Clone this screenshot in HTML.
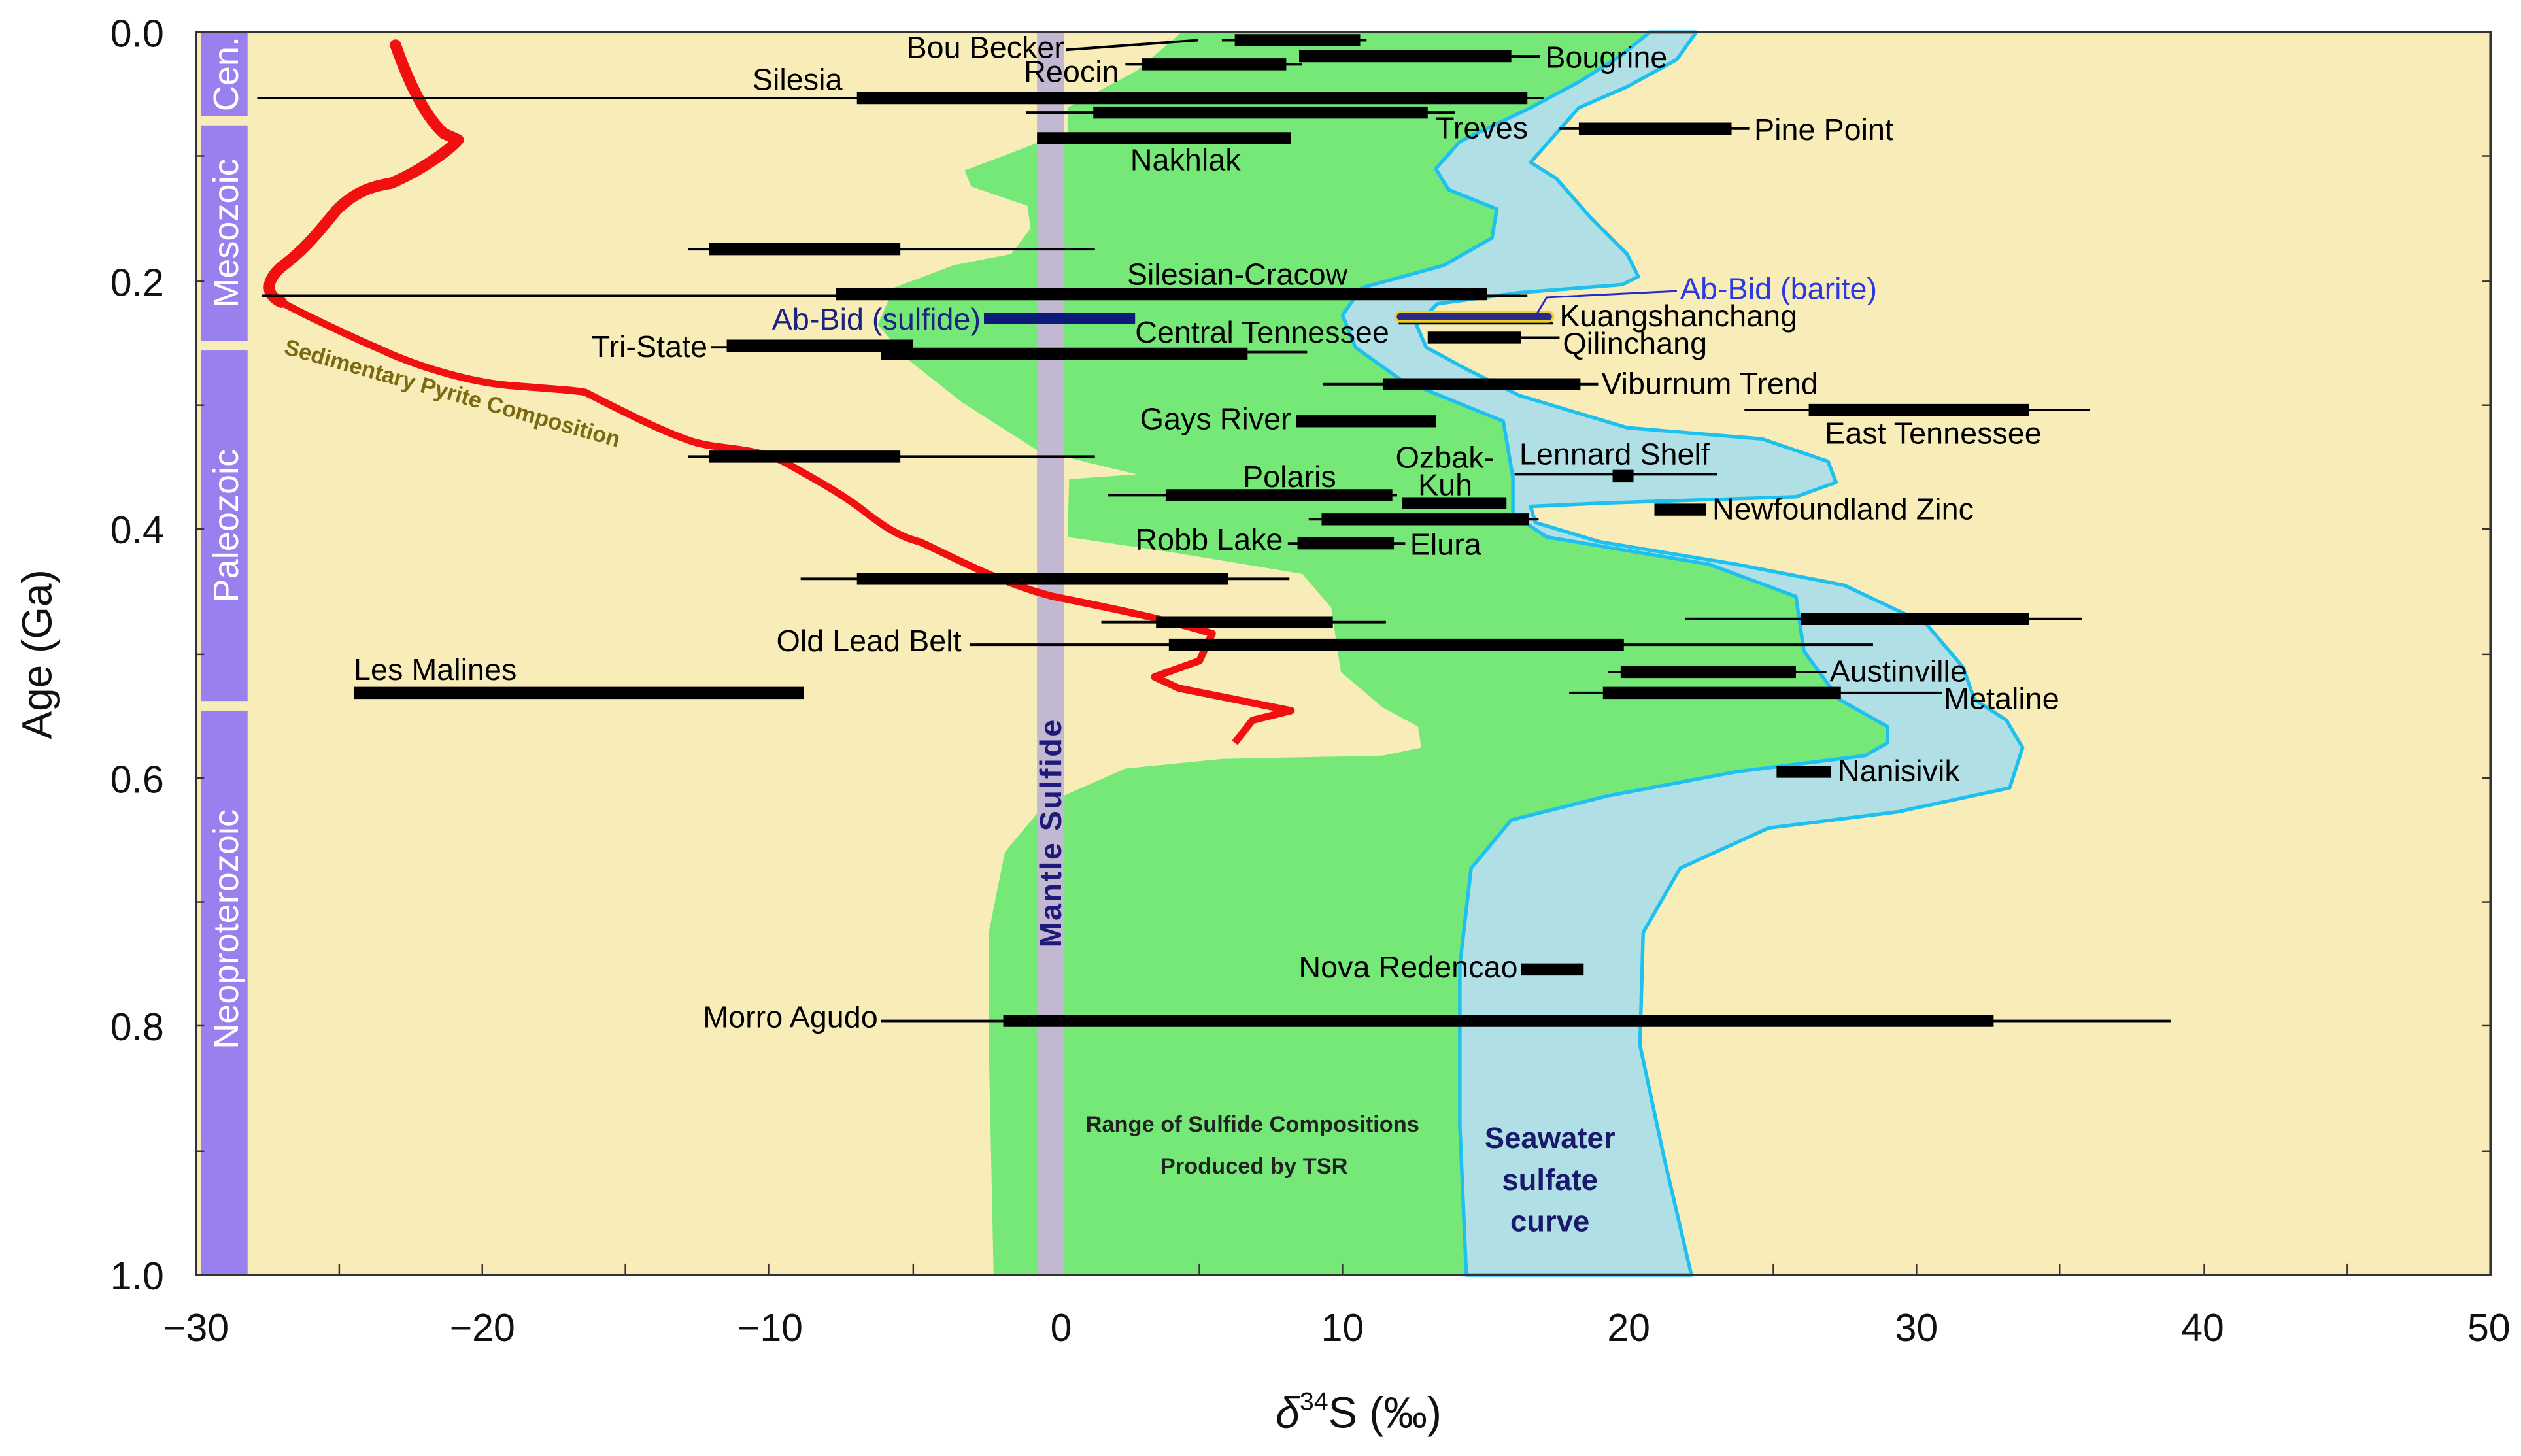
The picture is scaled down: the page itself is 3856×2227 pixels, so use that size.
<!DOCTYPE html>
<html><head><meta charset="utf-8"><style>
html,body{margin:0;padding:0;background:#fff;}
svg{display:block;}
text{font-family:"Liberation Sans",Arial,sans-serif;}
</style></head><body>
<svg width="3856" height="2227" viewBox="0 0 1568 905.6" preserveAspectRatio="none" xmlns="http://www.w3.org/2000/svg">
<rect x="0" y="0" width="1568" height="905.6" fill="#fff"/>
<rect x="122" y="20" width="1427" height="773" fill="#f8edb9"/>
<path fill="#76e878" d="M735,20 L707,44 L664,67 L664,84 L645,89 L600,106 L604,116 L639,128 L641,142 L629,158 L593,165 L556,179 L546,202 L564,223 L598,250 L645,280 L707,295 L665,298 L664,334 L732,344 L810,357 L828,378 L834,418 L860,440 L882,452 L884,465 L860,470 L760,472 L700,478 L650,500 L625,530 L615,580 L615,650 L618,793 L914,793 L910,700 L910,600 L917,540 L942,510 L1000,495 L1080,480 L1160,470 L1176,462 L1176,452 L1146,435 L1124,405 L1119,371 L1065,351 L964,334 L943,320 L943,297 L937,262 L873,236 L845,216 L837,196 L849,179 L900,165 L930,148 L933,130 L903,118 L895,105 L910,88 L954,67 L984,51 L1011,34 L1028,20 Z"/>
<path fill="#b0dfe6" stroke="#1ec0f0" stroke-width="2.2" stroke-linejoin="round" d="M1026,20 L1009,34 L982,51 L952,67 L908,88 L893,105 L901,118 L931,130 L928,148 L898,165 L847,179 L835,196 L843,216 L871,236 L935,262 L941,297 L941,320 L962,334 L1063,351 L1117,371 L1122,405 L1144,435 L1174,452 L1174,462 L1160,470 L1080,480 L1000,495 L940,510 L915,540 L908,600 L908,700 L912,793 L1052,793 L1035,720 L1020,650 L1022,580 L1045,540 L1100,515 L1180,505 L1250,490 L1258,465 L1248,448 L1228,435 L1221,415 L1198,388 L1147,364 L1080,351 L995,337 L955,325 L952,315 L995,313 L1117,309 L1142,300 L1137,287 L1096,273 L1012,266 L945,246 L911,229 L887,216 L881,202 L894,189 L945,182 L1009,177 L1019,172 L1012,158 L989,135 L968,111 L952,101 L982,67 L1012,54 L1043,37 L1055,20 Z"/>
<rect x="645" y="20" width="17" height="773" fill="#c2b8d2"/>
<text transform="translate(660,518) rotate(-90)" text-anchor="middle" font-size="19" font-weight="bold" fill="#1d1a7a" letter-spacing="1">Mantle Sulfide</text>
<rect x="125" y="20" width="29" height="52" fill="#9a80ef"/>
<rect x="125" y="78" width="29" height="134" fill="#9a80ef"/>
<rect x="125" y="218" width="29" height="218" fill="#9a80ef"/>
<rect x="125" y="442" width="29" height="351" fill="#9a80ef"/>
<g fill="#fff" font-size="22" text-anchor="middle">
<text transform="translate(148,46) rotate(-90)">Cen.</text>
<text transform="translate(148,145) rotate(-90)">Mesozoic</text>
<text transform="translate(148,327) rotate(-90)">Paleozoic</text>
<text transform="translate(148,578) rotate(-90)">Neoproterozoic</text>
</g>
<path fill="none" stroke="#f01010" stroke-width="7" stroke-linecap="round" stroke-linejoin="round" d="M246,28 C252,45 262,70 276,83 L285,87 C278,95 258,108 243,114 C230,116 220,120 209,131 C200,142 190,155 175,166 C166,174 164,183 175,188"/>
<path fill="none" stroke="#f01010" stroke-width="4.5" stroke-linejoin="round" d="M175,188 C190,196 215,208 236,217 C255,226 290,238 320,240 C345,242 360,243 364,244 C380,252 410,268 432,275 C450,280 470,278 489,288 C505,297 520,305 535,316 C550,328 560,334 572,337 C590,345 620,362 655,371 C690,378 720,384 754,394 L746,411 L718,421 L733,428 L803,442 L779,448 L768,462"/>
<text transform="translate(176,220) rotate(15.6)" font-size="14" font-weight="bold" fill="#7a6a12">Sedimentary Pyrite Composition</text>
<g stroke="#000" stroke-linecap="butt">
<g stroke-width="1.6">
<line x1="663" y1="31" x2="745" y2="25"/>
<line x1="760" y1="25" x2="850" y2="25"/>
<line x1="940" y1="35" x2="958" y2="35"/>
<line x1="700" y1="40" x2="810" y2="40"/>
<line x1="160" y1="61" x2="960" y2="61"/>
<line x1="638" y1="70" x2="905" y2="70"/>
<line x1="970" y1="80" x2="1088" y2="80"/>
<line x1="428" y1="155" x2="681" y2="155"/>
<line x1="163" y1="184" x2="950" y2="184"/>
<line x1="776" y1="219" x2="813" y2="219"/>
<line x1="442" y1="216" x2="452" y2="216"/>
<line x1="946" y1="210" x2="970" y2="210"/>
<line x1="823" y1="239" x2="994" y2="239"/>
<line x1="1085" y1="255" x2="1300" y2="255"/>
<line x1="428" y1="284" x2="681" y2="284"/>
<line x1="942" y1="295" x2="1068" y2="295"/>
<line x1="689" y1="308" x2="869" y2="308"/>
<line x1="814" y1="323" x2="957" y2="323"/>
<line x1="801" y1="338" x2="874" y2="338"/>
<line x1="498" y1="360" x2="802" y2="360"/>
<line x1="685" y1="387" x2="862" y2="387"/>
<line x1="1048" y1="385" x2="1295" y2="385"/>
<line x1="603" y1="401" x2="1165" y2="401"/>
<line x1="1000" y1="418" x2="1136" y2="418"/>
<line x1="976" y1="431" x2="1208" y2="431"/>
<line x1="548" y1="635" x2="1350" y2="635"/>
<line x1="870" y1="201" x2="966" y2="201"/>
</g>
<g stroke-width="7.5">
<line x1="768" y1="25" x2="846" y2="25"/>
<line x1="808" y1="35" x2="940" y2="35"/>
<line x1="710" y1="40" x2="800" y2="40"/>
<line x1="533" y1="61" x2="950" y2="61"/>
<line x1="680" y1="70" x2="888" y2="70"/>
<line x1="982" y1="80" x2="1077" y2="80"/>
<line x1="645" y1="86" x2="803" y2="86"/>
<line x1="441" y1="155" x2="560" y2="155"/>
<line x1="520" y1="183" x2="925" y2="183"/>
<line x1="548" y1="220" x2="776" y2="220"/>
<line x1="452" y1="215" x2="568" y2="215"/>
<line x1="888" y1="210" x2="946" y2="210"/>
<line x1="860" y1="239" x2="983" y2="239"/>
<line x1="1125" y1="255" x2="1262" y2="255"/>
<line x1="806" y1="262" x2="893" y2="262"/>
<line x1="441" y1="284" x2="560" y2="284"/>
<line x1="1003" y1="296" x2="1016" y2="296"/>
<line x1="725" y1="308" x2="866" y2="308"/>
<line x1="872" y1="313" x2="937" y2="313"/>
<line x1="822" y1="323" x2="951" y2="323"/>
<line x1="1029" y1="317" x2="1061" y2="317"/>
<line x1="807" y1="338" x2="867" y2="338"/>
<line x1="533" y1="360" x2="764" y2="360"/>
<line x1="719" y1="387" x2="829" y2="387"/>
<line x1="1120" y1="385" x2="1262" y2="385"/>
<line x1="727" y1="401" x2="1010" y2="401"/>
<line x1="220" y1="431" x2="500" y2="431"/>
<line x1="1008" y1="418" x2="1117" y2="418"/>
<line x1="997" y1="431" x2="1145" y2="431"/>
<line x1="1105" y1="480" x2="1139" y2="480"/>
<line x1="946" y1="603" x2="985" y2="603"/>
<line x1="624" y1="635" x2="1240" y2="635"/>
</g>
</g>
<rect x="612" y="194.5" width="94" height="7" fill="#0c1a78"/>
<rect x="868" y="194" width="98" height="6" rx="3" fill="#2a2a8a" stroke="#f2d020" stroke-width="1.5"/>
<polyline points="1043,181 962,185 956,195" fill="none" stroke="#2a2acc" stroke-width="1.2"/>
<g font-size="19" fill="#000">
<text x="662" y="36" text-anchor="end">Bou Becker</text>
<text x="961" y="42">Bougrine</text>
<text x="696" y="51" text-anchor="end">Reocin</text>
<text x="468" y="56">Silesia</text>
<text x="893" y="86">Treves</text>
<text x="1091" y="87">Pine Point</text>
<text x="703" y="106">Nakhlak</text>
<text x="701" y="177">Silesian-Cracow</text>
<text x="970" y="203">Kuangshanchang</text>
<text x="706" y="213">Central Tennessee</text>
<text x="440" y="222" text-anchor="end">Tri-State</text>
<text x="972" y="220">Qilinchang</text>
<text x="996" y="245">Viburnum Trend</text>
<text x="1135" y="276">East Tennessee</text>
<text x="803" y="267" text-anchor="end">Gays River</text>
<text x="945" y="289">Lennard Shelf</text>
<text x="868" y="291">Ozbak-</text>
<text x="882" y="308">Kuh</text>
<text x="773" y="303">Polaris</text>
<text x="1065" y="323">Newfoundland Zinc</text>
<text x="798" y="342" text-anchor="end">Robb Lake</text>
<text x="877" y="345">Elura</text>
<text x="598" y="405" text-anchor="end">Old Lead Belt</text>
<text x="220" y="423">Les Malines</text>
<text x="1138" y="424">Austinville</text>
<text x="1209" y="441">Metaline</text>
<text x="1143" y="486">Nanisivik</text>
<text x="944" y="608" text-anchor="end">Nova Redencao</text>
<text x="546" y="639" text-anchor="end">Morro Agudo</text>
</g>
<text x="610" y="205" text-anchor="end" font-size="19" fill="#1a2380">Ab-Bid (sulfide)</text>
<text x="1045" y="186" font-size="19" fill="#2a3ae0">Ab-Bid (barite)</text>
<g font-size="14" font-weight="bold" fill="#222" text-anchor="middle">
<text x="779" y="704">Range of Sulfide Compositions</text>
<text x="780" y="730">Produced by TSR</text>
</g>
<g font-size="18.5" font-weight="bold" fill="#1a1a6a" text-anchor="middle">
<text x="964" y="714">Seawater</text>
<text x="964" y="740">sulfate</text>
<text x="964" y="766">curve</text>
</g>
<rect x="122" y="20" width="1427" height="773" fill="none" stroke="#333" stroke-width="1.5"/>
<g stroke="#333" stroke-width="1">
<line x1="122" y1="97" x2="127" y2="97"/><line x1="122" y1="175" x2="127" y2="175"/><line x1="122" y1="252" x2="127" y2="252"/><line x1="122" y1="329" x2="127" y2="329"/><line x1="122" y1="407" x2="127" y2="407"/><line x1="122" y1="484" x2="127" y2="484"/><line x1="122" y1="561" x2="127" y2="561"/><line x1="122" y1="638" x2="127" y2="638"/><line x1="122" y1="716" x2="127" y2="716"/>
<line x1="1544" y1="97" x2="1549" y2="97"/><line x1="1544" y1="175" x2="1549" y2="175"/><line x1="1544" y1="252" x2="1549" y2="252"/><line x1="1544" y1="329" x2="1549" y2="329"/><line x1="1544" y1="407" x2="1549" y2="407"/><line x1="1544" y1="484" x2="1549" y2="484"/><line x1="1544" y1="561" x2="1549" y2="561"/><line x1="1544" y1="638" x2="1549" y2="638"/><line x1="1544" y1="716" x2="1549" y2="716"/>
<line x1="211" y1="793" x2="211" y2="786"/><line x1="300" y1="793" x2="300" y2="786"/><line x1="389" y1="793" x2="389" y2="786"/><line x1="478" y1="793" x2="478" y2="786"/><line x1="568" y1="793" x2="568" y2="786"/><line x1="746" y1="793" x2="746" y2="786"/><line x1="835" y1="793" x2="835" y2="786"/><line x1="1103" y1="793" x2="1103" y2="786"/><line x1="1192" y1="793" x2="1192" y2="786"/><line x1="1281" y1="793" x2="1281" y2="786"/><line x1="1371" y1="793" x2="1371" y2="786"/><line x1="1460" y1="793" x2="1460" y2="786"/>
</g>
<g font-size="24" fill="#111" text-anchor="end">
<text x="102" y="29">0.0</text>
<text x="102" y="184">0.2</text>
<text x="102" y="338">0.4</text>
<text x="102" y="493">0.6</text>
<text x="102" y="647">0.8</text>
<text x="102" y="802">1.0</text>
</g>
<g font-size="24" fill="#111" text-anchor="middle">
<text x="122" y="834">−30</text>
<text x="300" y="834">−20</text>
<text x="479" y="834">−10</text>
<text x="660" y="834">0</text>
<text x="835" y="834">10</text>
<text x="1013" y="834">20</text>
<text x="1192" y="834">30</text>
<text x="1370" y="834">40</text>
<text x="1548" y="834">50</text>
</g>
<text transform="translate(32,407) rotate(-90)" font-size="26" fill="#111" text-anchor="middle">Age (Ga)</text>
<text x="845" y="888" font-size="27" fill="#111" text-anchor="middle"><tspan font-style="italic">δ</tspan><tspan font-size="16" dy="-11">34</tspan><tspan dy="11">S (‰)</tspan></text>
</svg>
</body></html>
